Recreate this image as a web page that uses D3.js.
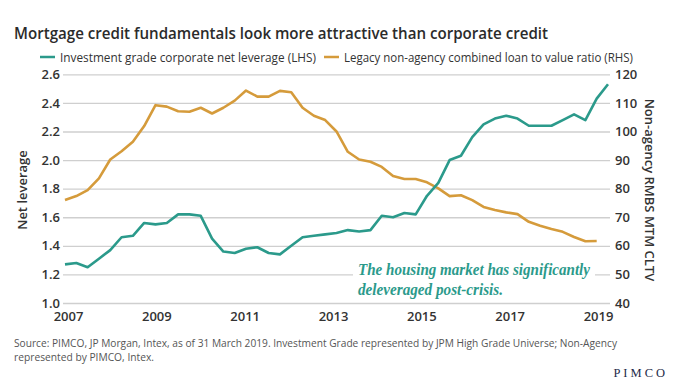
<!DOCTYPE html>
<html>
<head>
<meta charset="utf-8">
<script src="https://cdnjs.cloudflare.com/ajax/libs/d3/7.8.5/d3.min.js"></script>
<style>
  body { margin: 0; background: #fff; }
  svg { display: block; }
</style>
</head>
<body>
<script>
// quarterly values, Q1 2007 onwards
var leverage = [1.27, 1.28, 1.25, 1.31, 1.37, 1.46, 1.47, 1.56, 1.55, 1.56, 1.62, 1.62,
  1.61, 1.45, 1.36, 1.35, 1.38, 1.39, 1.35, 1.34, 1.40, 1.46, 1.47, 1.48,
  1.49, 1.51, 1.50, 1.51, 1.61, 1.60, 1.63, 1.62, 1.75, 1.84, 2.00, 2.03,
  2.16, 2.25, 2.29, 2.31, 2.29, 2.24, 2.24, 2.24, 2.28, 2.32, 2.28, 2.43, 2.53];
var cltv = [76.0, 77.4, 79.5, 83.6, 90.2, 93.1, 96.4, 101.9, 109.2, 108.7, 107.1, 106.9,
  108.3, 106.3, 108.3, 110.8, 114.3, 112.2, 112.2, 114.2, 113.7, 108.3, 105.5, 104.0,
  100.0, 92.9, 90.2, 89.4, 87.6, 84.4, 83.4, 83.4, 82.2, 80.1, 77.4, 77.7,
  76.0, 73.6, 72.5, 71.7, 71.1, 68.4, 67.0, 65.9, 64.9, 63.1, 61.6, 61.7];
var yearLabels = [2007, 2009, 2011, 2013, 2015, 2017, 2019];
var leftTicks = [1.0, 1.2, 1.4, 1.6, 1.8, 2.0, 2.2, 2.4, 2.6];
var rightTicks = [40, 50, 60, 70, 80, 90, 100, 110, 120];
var seriesNames = ["Investment grade corporate net leverage (LHS)",
  "Legacy non-agency combined loan to value ratio (RHS)"];

var width = 680, height = 383;
var teal = "#2b9a8b", gold = "#d59b3b", ink = "#333";
var sans = "'Open Sans', 'Noto Sans', sans-serif";

var svg = d3.select("body").append("svg")
    .attr("width", width)
    .attr("height", height);

var x = d3.scaleLinear().domain([2007, 2019]).range([65, 608]);
var xLab = d3.scalePoint().domain(yearLabels).range([68, 598]);
var yL = d3.scaleLinear().domain([1.0, 2.6]).range([303, 74.3]);
var yR = d3.scaleLinear().domain([40, 120]).range([303, 74.3]);

function q(i) { return 2007 + i / 4; }

// title
svg.append("text")
    .attr("x", 14).attr("y", 39)
    .attr("font-family", sans)
    .attr("font-weight", 600)
    .attr("font-size", 16)
    .attr("fill", "#2b2b2b")
    .attr("textLength", 534)
    .attr("lengthAdjust", "spacingAndGlyphs")
    .text("Mortgage credit fundamentals look more attractive than corporate credit");

// legend
var legend = [
  {name: seriesNames[0], color: teal, x: 40, w: 256},
  {name: seriesNames[1], color: gold, x: 324, w: 289}
];
legend.forEach(function (d) {
    svg.append("line")
        .attr("x1", d.x).attr("x2", d.x + 15)
        .attr("y1", 57).attr("y2", 57)
        .attr("stroke", d.color).attr("stroke-width", 2.5);
    svg.append("text")
        .attr("x", d.x + 20).attr("y", 61.5)
        .attr("font-family", sans)
        .attr("font-size", 12.5)
        .attr("fill", ink)
        .attr("textLength", d.w)
        .attr("lengthAdjust", "spacingAndGlyphs")
        .text(d.name);
});

// gridlines
svg.append("g")
    .attr("transform", "translate(63,0)")
    .call(d3.axisRight(yL).tickValues(leftTicks).tickSize(547).tickFormat(""))
    .call(function (g) {
        g.select(".domain").remove();
        g.selectAll("line").attr("stroke", "#cfcfcf").attr("stroke-width", 1.3);
    });

function styleTicks(g) {
    g.select(".domain").remove();
    g.selectAll("text")
        .attr("font-family", sans)
        .attr("font-size", 13)
        .attr("font-weight", 600)
        .attr("fill", ink);
}

// left axis labels
svg.append("g")
    .attr("transform", "translate(60,0)")
    .call(d3.axisLeft(yL).tickValues(leftTicks).tickSize(0).tickPadding(0).tickFormat(d3.format(".1f")))
    .call(styleTicks);

// right axis labels
svg.append("g")
    .attr("transform", "translate(615,0)")
    .call(d3.axisRight(yR).tickValues(rightTicks).tickSize(0).tickPadding(0))
    .call(styleTicks);

// x labels
svg.append("g")
    .attr("transform", "translate(0,309)")
    .call(d3.axisBottom(xLab).tickSize(0).tickPadding(3).tickFormat(d3.format("d")))
    .call(styleTicks);

// axis titles
svg.append("text")
    .attr("transform", "translate(27,190) rotate(-90)")
    .attr("text-anchor", "middle")
    .attr("font-family", sans)
    .attr("font-size", 13)
    .attr("font-weight", 600)
    .attr("fill", ink)
    .text("Net leverage");
svg.append("text")
    .attr("transform", "translate(645,190) rotate(90)")
    .attr("text-anchor", "middle")
    .attr("font-family", sans)
    .attr("font-size", 13)
    .attr("font-weight", 600)
    .attr("fill", ink)
    .text("Non-agency RMBS MTM CLTV");

// annotation with white backing
svg.append("rect")
    .attr("x", 353).attr("y", 259)
    .attr("width", 242).attr("height", 38)
    .attr("fill", "#fff");
var note = svg.append("text")
    .attr("font-family", "'Liberation Serif', 'DejaVu Serif', serif")
    .attr("font-style", "italic")
    .attr("font-weight", 600)
    .attr("font-size", 16)
    .attr("fill", teal);
note.append("tspan").attr("x", 358).attr("y", 275)
    .attr("textLength", 232).attr("lengthAdjust", "spacingAndGlyphs")
    .text("The housing market has significantly");
note.append("tspan").attr("x", 358).attr("y", 295)
    .attr("textLength", 145).attr("lengthAdjust", "spacingAndGlyphs")
    .text("deleveraged post-crisis.");

// lines
var lineL = d3.line().x(function (d, i) { return x(q(i)); }).y(function (d) { return yL(d); });
var lineR = d3.line().x(function (d, i) { return x(q(i)); }).y(function (d) { return yR(d); });

svg.append("path")
    .datum(cltv)
    .attr("d", lineR)
    .attr("fill", "none")
    .attr("stroke", gold)
    .attr("stroke-width", 2.6)
    .attr("stroke-linejoin", "round");
svg.append("path")
    .datum(leverage)
    .attr("d", lineL)
    .attr("fill", "none")
    .attr("stroke", teal)
    .attr("stroke-width", 2.6)
    .attr("stroke-linejoin", "round");

// source
var src = svg.append("text")
    .attr("font-family", sans)
    .attr("font-size", 10.5)
    .attr("fill", "#555");
src.append("tspan").attr("x", 14).attr("y", 347)
    .attr("textLength", 603).attr("lengthAdjust", "spacingAndGlyphs")
    .text("Source: PIMCO, JP Morgan, Intex, as of 31 March 2019. Investment Grade represented by JPM High Grade Universe; Non-Agency");
src.append("tspan").attr("x", 14).attr("y", 361)
    .attr("textLength", 140).attr("lengthAdjust", "spacingAndGlyphs")
    .text("represented by PIMCO, Intex.");

// logo
svg.append("text")
    .attr("x", 668).attr("y", 377)
    .attr("text-anchor", "end")
    .attr("font-family", "'Liberation Serif', serif")
    .attr("font-size", 12.5)
    .attr("letter-spacing", 3)
    .attr("fill", "#1d2a48")
    .text("PIMCO");
</script>
</body>
</html>
